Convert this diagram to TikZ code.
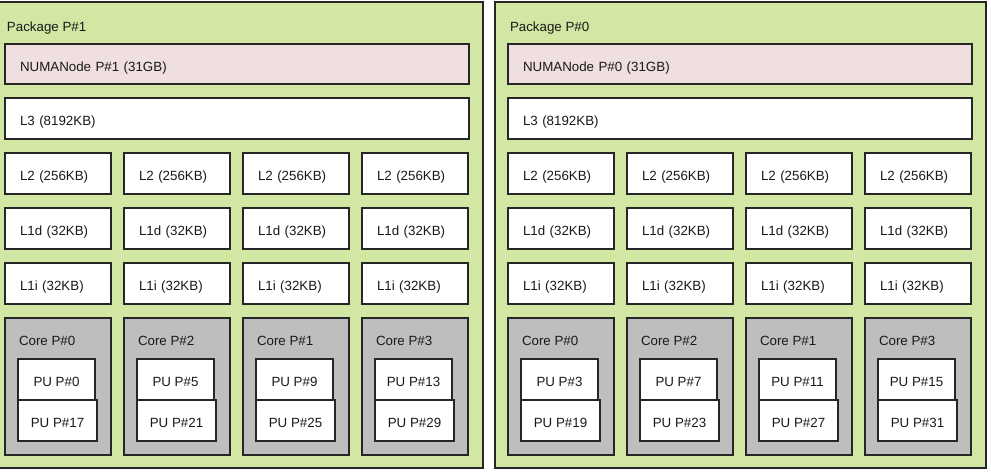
\documentclass[tikz,border=0pt]{standalone}
\usepackage{fontspec}
\setsansfont{Liberation Sans}
\usepackage{tikz}
\usetikzlibrary{positioning,calc}
\usepackage{xcolor}
\definecolor{pkggreen}{HTML}{D2E7A4}
\definecolor{numapink}{HTML}{EFDFDE}
\definecolor{coregray}{HTML}{BEBEBE}

\begin{document}
\begin{tikzpicture}[
    x=0.75pt, y=-0.75pt,
    font=\sffamily\fontsize{10}{12}\selectfont, text=black!90,
    every node/.append style={outer sep=0pt},
    package/.style={draw=black!85, fill=pkggreen, rectangle, line width=1.2pt, minimum width=368.25pt, minimum height=349.5pt, inner sep=0pt, anchor=north west},
    numa/.style={draw=black!85, fill=numapink, rectangle, line width=1.2pt, minimum height=30pt, inner xsep=11.25pt, inner ysep=0pt, text height=11pt, text depth=0pt, text width=325.5pt, align=left},
    bigcache/.style={numa, fill=white, minimum height=30.75pt},
    cache/.style={draw=black!85, fill=white, rectangle, line width=1.2pt, minimum height=30.75pt, inner xsep=11.25pt, inner ysep=0pt, text height=11pt, text depth=0pt, text width=57pt, align=left},
    core/.style={draw=black!85, fill=coregray, rectangle, line width=1.2pt, minimum width=79.5pt, minimum height=102.75pt, inner sep=0pt},
    pu/.style={draw=black!85, fill=white, rectangle, line width=1.2pt, minimum width=57.75pt, minimum height=30.75pt, inner sep=0pt, text height=10.5pt, text depth=0pt, anchor=north west},
    tag/.style={inner sep=0pt, anchor=west}
]
    \useasboundingbox (0,0) rectangle (991,472);
    \clip (0,0) rectangle (991,472);

    % one package per socket: core numbers / PU pairs
    \foreach \p/\xp/\cores in {1/-8/{0/0/17,2/5/21,1/9/25,3/13/29}, 0/495/{0/3/19,2/7/23,1/11/27,3/15/31}} {
        \node (pkg\p) [package] at (\xp,2) {};
        \node (pkglabel\p) [tag] at ($(pkg\p.north west)+(11.25pt,-19.5pt)$) {Package P\#\p};
        \node (numa\p) [numa, anchor=north west] at ($(pkg\p.north west)+(9.75pt,-31.5pt)$) {NUMANode P\#\p{} (31GB)};
        \node (lthree\p) [bigcache, below=10.5pt of numa\p] {L3 (8192KB)};

        \foreach \c/\pa/\pb [count=\j from 0] in \cores {
            \node (ltwo\p-\j) [cache, anchor=north west] at ($(lthree\p.south west)+(\j*89.25pt,-10.5pt)$) {L2 (256KB)};
            \node (loned\p-\j) [cache, below=10.5pt of ltwo\p-\j] {L1d (32KB)};
            \node (lonei\p-\j) [cache, below=10.5pt of loned\p-\j] {L1i (32KB)};
            \node (core\p-\j) [core, below=10.5pt of lonei\p-\j] {};
            \node (corelabel\p-\j) [tag] at ($(core\p-\j.north west)+(10.5pt,-17.25pt)$) {Core P\#\c};
            \node (pua\p-\j) [pu] at ($(core\p-\j.north west)+(9.75pt,-30.75pt)$) {PU P\#\pa};
            \node (pub\p-\j) [pu, minimum width=59.25pt] at (pua\p-\j.south west) {PU P\#\pb};
        }
    }

\end{tikzpicture}
\end{document}
